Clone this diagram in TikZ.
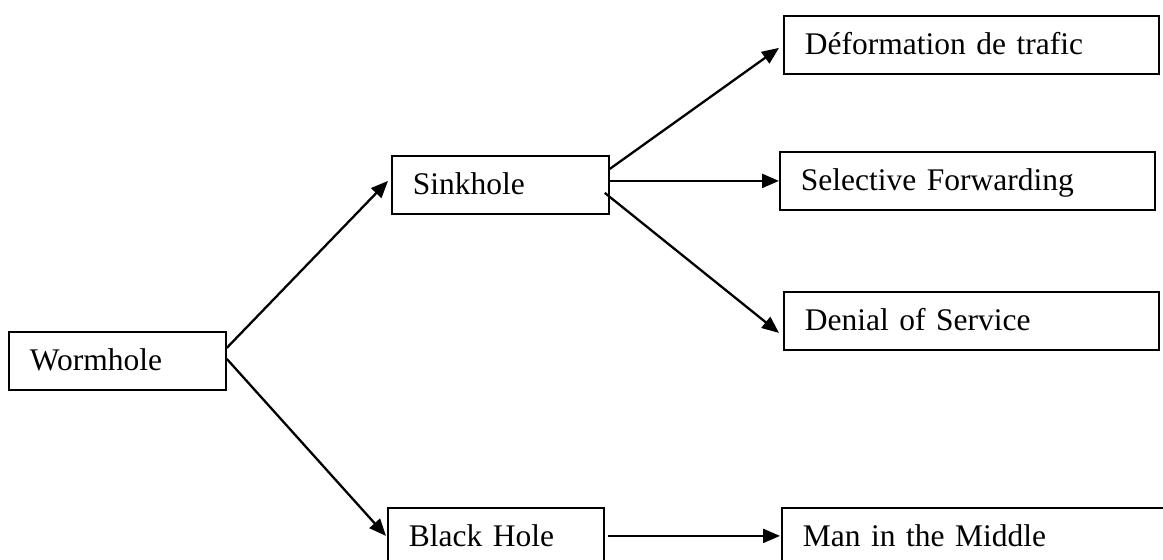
\documentclass[tikz,border=0pt]{standalone}
\usepackage{fontspec}
\setmainfont{Liberation Serif}
\usetikzlibrary{arrows.meta,calc}
\begin{document}
\begin{tikzpicture}[x=1pt,y=-1pt,
  box/.style={draw, line width=1.8pt, anchor=north west, inner xsep=21pt, inner ysep=0pt,
    minimum height=58pt, align=left, text height=24.5pt, text depth=4.5pt,
    font=\fontsize{31.5}{36}\selectfont},
  arr/.style={line width=2.3pt, -{Triangle[length=17pt,width=14pt]}}]
\fill[white] (0,0) rectangle (1163,560);
\clip (0,0) rectangle (1163,560);
\node[box, text width=175pt] (worm) at (8,331) {Wormhole};
\node[box, text width=175pt] (sink) at (391,155) {Sinkhole};
\node[box, text width=333pt] (defo) at (783,15) {Déformation de trafic};
\node[box, text width=333pt] (sel) at (779,151) {Selective Forwarding};
\node[box, text width=333pt] (den) at (783,291) {Denial of Service};
\node[box, text width=174pt] (bh) at (387,507) {Black Hole};
\node[box, text width=360pt] (mitm) at (781,507) {Man in the Middle};
\draw[arr] ($(worm.east)+(0,-13)$) -- ($(sink.west)+(-3,-4)$);
\draw[arr] ($(worm.east)+(0,-2)$) -- ($(bh.west)+(-1,-1)$);
\draw[arr] ($(sink.east)+(0,-16)$) -- ($(defo.west)+(-4,3)$);
\draw[arr] ($(sink.east)+(0,-4)$) -- (sel.west);
\draw[arr] ($(sink.east)+(-5,8)$) -- ($(den.west)+(-4,12)$);
\draw[arr] ($(bh.east)+(3,-1)$) -- ($(mitm.west)+(-1,-1)$);
\end{tikzpicture}
\end{document}
